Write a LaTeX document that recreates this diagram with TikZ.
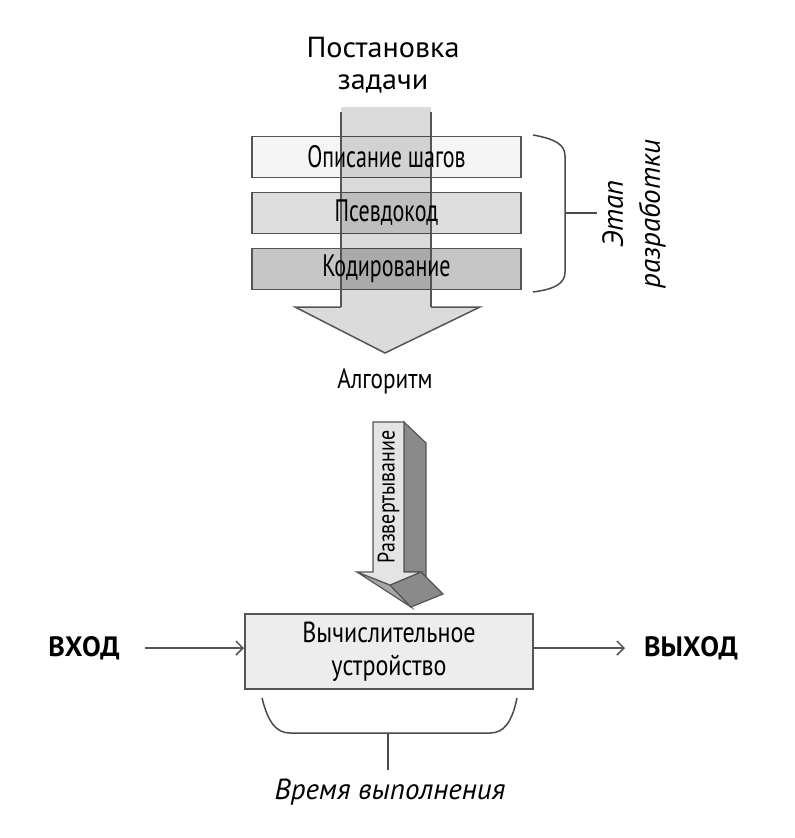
\documentclass[tikz,border=0pt]{standalone}
\usepackage{fontspec}
\setmainfont{PT Sans}
\newfontfamily\titlefont[FakeStretch=1.04]{PT Sans}
\newfontfamily\condA[FakeStretch=0.71]{PT Sans}
\newfontfamily\condB[FakeStretch=0.83]{PT Sans}
\usetikzlibrary{arrows.meta}
\definecolor{boxline}{HTML}{555555}
\definecolor{fillA}{HTML}{F5F5F5}
\definecolor{fillB}{HTML}{DEDEDE}
\definecolor{fillC}{HTML}{C6C6C6}
\definecolor{headgray}{HTML}{DBDBDB}
\definecolor{cpufill}{HTML}{EDEDED}
\definecolor{frontface}{HTML}{E4E4E4}
\definecolor{sideface}{HTML}{8A8A8A}
\definecolor{underface}{HTML}{A8A8A8}
\definecolor{linegray}{HTML}{4A4A4A}
\begin{document}
\begin{tikzpicture}[x=1pt,y=-1pt,
  stagetxt/.style={font=\condA\fontsize{31}{33}\selectfont, inner sep=0pt, align=center},
  cputxt/.style={font=\condB\fontsize{29}{33}\selectfont, inner sep=0pt, align=center},
  plaintxt/.style={font=\titlefont\fontsize{29}{32}\selectfont, inner sep=0pt, align=center},
  boldtxt/.style={font=\bfseries\fontsize{28}{30}\selectfont, inner sep=0pt},
  itxt/.style={font=\itshape\fontsize{29}{37}\selectfont, inner sep=0pt, align=center},
  stagebox/.style={draw=boxline, line width=1.5pt, minimum width=269pt, minimum height=41pt, inner sep=0pt},
  outline/.style={draw=boxline, line width=1.5pt},
  flow/.style={draw=boxline, line width=1.8pt, -{Straight Barb[length=7pt,width=14pt,line width=1.5pt]}},
  bracket/.style={draw=linegray, line width=1.5pt}
]
\useasboundingbox (0,0) rectangle (795,838);

% title
\node[plaintxt] (task) at (383,65) {Постановка\\задачи};

% stage boxes
\node[stagebox, fill=fillA] (b1) at (386.5,157) {};
\node[stagebox, fill=fillB] (b2) at (386.5,213) {};
\node[stagebox, fill=fillC] (b3) at (386.5,269) {};

% big arrow shaft overlay
\fill[black, opacity=0.14] (341,107) rectangle (431,307);
\draw[outline] (341,112) -- (341,307);
\draw[outline] (431,112) -- (431,307);
\draw[outline, fill=headgray] (341,307) -- (295,307) -- (385,353) -- (480,307) -- (431,307);

% stage texts
\node[stagetxt] (t1) at (b1.center) {Описание шагов};
\node[stagetxt] (t2) at (b2.center) {Псевдокод};
\node[stagetxt] (t3) at (b3.center) {Кодирование};

% brace for development stage
\draw[bracket] (533,135) .. controls (556,139) and (565,145) .. (565,156) -- (565,272) .. controls (565,283) and (556,289) .. (533,292);
\coordinate (bmid) at (565,213);
\coordinate (btip) at (597,213);
\draw[bracket] (bmid) -- (btip);
\node[itxt, rotate=90] (dev) at (634,214) {Этап\\разработки};

% algorithm label
\node[cputxt, font=\condB\fontsize{28}{30}\selectfont] (alg) at (385,381) {Алгоритм};

% 3D deployment arrow
\draw[outline, line width=1.2pt, fill=sideface] (404,422) -- (426,443) -- (426,577) -- (421,572) -- (404,572) -- cycle;
\draw[outline, line width=1.2pt, fill=underface] (357,572) -- (390,585) -- (411,607) -- cycle;
\draw[outline, line width=1.2pt, fill=sideface] (390,585) -- (421,572) -- (443,594) -- (411,607) -- cycle;
\draw[outline, line width=1.2pt, fill=frontface] (373,422) -- (404,422) -- (404,572) -- (421,572) -- (390,585) -- (357,572) -- (373,572) -- cycle;
\node[stagetxt, font=\condB\fontsize{24}{28}\selectfont, rotate=90] (dep) at (388.5,497) {Развертывание};

% computing device
\node[draw=boxline, line width=2pt, fill=cpufill, minimum width=288pt, minimum height=75pt, inner sep=0pt, cputxt] (cpu) at (389,651.5) {Вычислительное\\устройство};

% input / output
\node[boldtxt] (in) at (84,648) {ВХОД};
\coordinate (inStart) at (145,648);
\draw[flow] (inStart) -- (cpu.west |- inStart);
\coordinate (outEnd) at (625,648);
\draw[flow] (cpu.east |- outEnd) -- (outEnd);
\node[boldtxt] (out) at (691,648) {ВЫХОД};

% runtime brace
\draw[bracket] (262,698) .. controls (268,722) and (276,733) .. (290,733) -- (490,733) .. controls (504,733) and (512,722) .. (517,698);
\coordinate (rmid) at (388,733);
\coordinate (rtip) at (388,770);
\draw[bracket] (rmid) -- (rtip);
\node[itxt] (rt) at (390,792) {Время выполнения};
\end{tikzpicture}
\end{document}
